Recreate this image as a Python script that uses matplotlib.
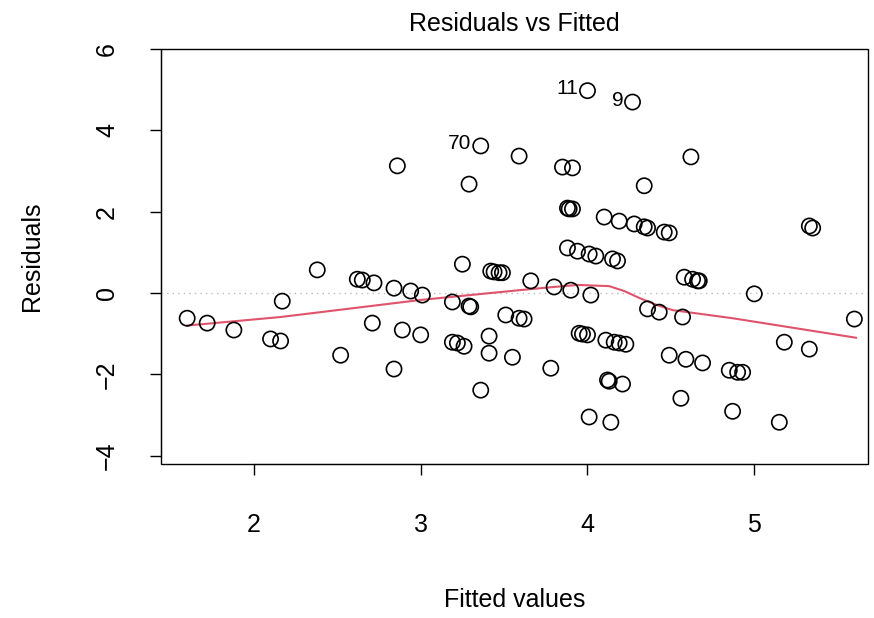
import numpy as np
import matplotlib
matplotlib.use("Agg")
import matplotlib.pyplot as plt

fitted = [1.60, 1.72, 1.88, 2.10, 2.16, 2.17, 2.38, 2.52, 2.62, 2.65, 2.72, 2.71, 2.84, 2.84,
          2.86, 2.89, 2.94, 3.01, 3.00, 3.19, 3.19, 3.22, 3.25, 3.26, 3.29, 3.29, 3.30, 3.36,
          3.36, 3.41, 3.41, 3.42, 3.44, 3.47, 3.49, 3.51, 3.59, 3.55, 3.59, 3.62, 3.66, 3.78,
          3.80, 4.00, 4.27, 3.85, 3.91, 4.62, 4.34, 3.88, 3.89, 3.91, 4.10, 4.19, 4.28, 4.34,
          4.36, 4.46, 4.49, 5.33, 5.35, 3.88, 3.94, 4.01, 4.05, 4.15, 4.18, 3.90, 4.02, 4.58,
          4.63, 4.66, 4.67, 5.00, 5.60, 4.36, 4.43, 4.57, 5.18, 5.33, 3.95, 3.97, 4.00, 4.11,
          4.16, 4.19, 4.23, 4.49, 4.59, 4.69, 4.85, 4.90, 4.93, 4.12, 4.13, 4.21, 4.56, 4.87,
          4.01, 4.14, 5.15]
resid = [-0.62, -0.74, -0.91, -1.13, -1.18, -0.20, 0.57, -1.53, 0.34, 0.32, 0.25, -0.74, 0.12, -1.87,
         3.13, -0.91, 0.05, -0.05, -1.03, -0.22, -1.21, -1.23, 0.71, -1.31, 2.68, -0.32, -0.34, -2.39,
         3.62, -1.06, -1.48, 0.54, 0.52, 0.50, 0.50, -0.54, 3.37, -1.58, -0.62, -0.64, 0.30, -1.85,
         0.15, 4.98, 4.70, 3.10, 3.08, 3.35, 2.64, 2.09, 2.07, 2.07, 1.87, 1.77, 1.70, 1.63,
         1.60, 1.50, 1.48, 1.65, 1.60, 1.11, 1.03, 0.96, 0.91, 0.84, 0.79, 0.07, -0.05, 0.39,
         0.34, 0.30, 0.30, -0.02, -0.64, -0.39, -0.47, -0.59, -1.21, -1.38, -0.99, -1.01, -1.03, -1.16,
         -1.21, -1.23, -1.26, -1.53, -1.63, -1.72, -1.90, -1.95, -1.95, -2.14, -2.17, -2.24, -2.59, -2.91,
         -3.05, -3.18, -3.18]
smooth_x = [1.60, 2.16, 3.00, 3.59, 3.80, 3.94, 4.13, 4.22, 4.31, 4.42, 4.51, 4.87, 5.61]
smooth_y = [-0.80, -0.59, -0.17, 0.07, 0.15, 0.20, 0.17, 0.05, -0.12, -0.30, -0.42, -0.62, -1.10]
labels = {"11": (4.00, 4.98), "9": (4.27, 4.70), "70": (3.36, 3.62)}

plt.rcParams['font.family'] = ['Liberation Sans', 'DejaVu Sans']
fig = plt.figure(figsize=(8.74, 6.18), dpi=100)
ax = fig.add_axes([0.184, 0.249, 0.809, 0.672])
ax.axhline(0, color='#bbbbbb', linestyle=(0, (1, 3)), lw=1)
ax.scatter(fitted, resid, s=120, facecolors='none', edgecolors='black', linewidths=1.2, zorder=3)
ax.plot(smooth_x, smooth_y, color='#DF536B', lw=1.5, zorder=2)
for name, (x, y) in labels.items():
    ax.text(x - 0.055, y + 0.05, name, ha='right', va='center', fontsize=15)
ax.set_xlim(1.442, 5.681)
ax.set_ylim(-4.21, 6.01)
ax.set_xticks([2, 3, 4, 5])
ax.set_yticks([-4, -2, 0, 2, 4, 6])
ax.tick_params(direction='out', length=8, labelsize=18, width=1)
ax.tick_params(axis='x', pad=27)
ax.tick_params(axis='y', labelrotation=90, pad=22)
for lab in ax.get_yticklabels():
    lab.set_va('center')
ax.spines['left'].set_bounds(-4, 6)
ax.spines['bottom'].set_bounds(2, 5)
ax.spines['right'].set_visible(False)
ax.spines['top'].set_visible(False)
ax.add_patch(plt.Rectangle((0, 0), 1, 1, transform=ax.transAxes, fill=False, lw=1, clip_on=False))
ax.set_title("Residuals vs Fitted", fontsize=18, pad=13)
ax.set_xlabel("Fitted values", fontsize=18, labelpad=37)
ax.set_ylabel("Residuals", fontsize=18, labelpad=37)
fig.savefig("out.png")
